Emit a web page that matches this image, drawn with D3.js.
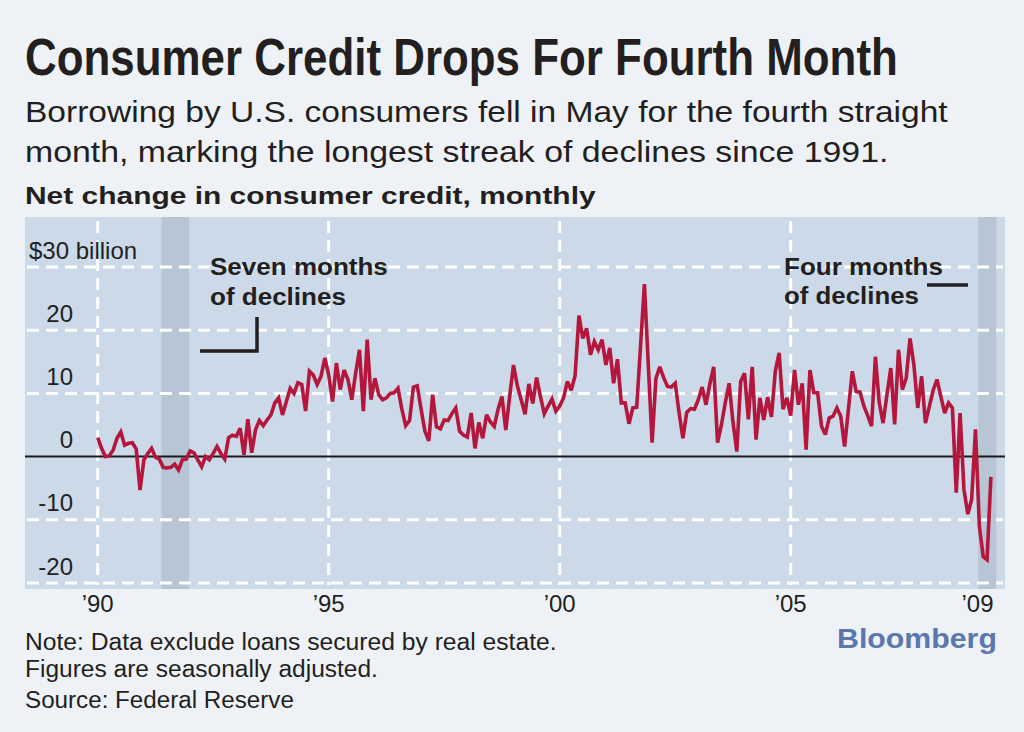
<!DOCTYPE html>
<html>
<head>
<meta charset="utf-8">
<script src="https://cdn.jsdelivr.net/npm/d3@7"></script>
<style>
  body { margin: 0; background: #eef2f6; }
  svg { display: block; font-family: "Liberation Sans", Arial, sans-serif; }
</style>
</head>
<body>
<div id="chart"></div>
<script>
// -- DATA: net change in consumer credit, $ billions, monthly from Jan 1990
var startYear = 1990;

var credit1990to1994 = [
  3.0, 1.3, 0.0, 0.1, 1.0, 2.9, 3.9, 1.8, 2.1, 2.2, 1.2, -5.3,
  -0.5, 0.5, 1.3, -0.1, -0.4, -1.7, -1.8, -1.7, -1.2, -2.1, -0.5, -0.4,
  0.9, 0.6, -0.5, -1.6, 0.0, -0.5, 0.5, 1.6, 0.5, -0.4, 3.0, 3.4,
  3.2, 4.5, 0.3, 5.9, 0.6, 4.3, 5.7, 4.9, 5.8, 6.6, 8.5, 9.3,
  6.6, 8.7, 10.8, 10.0, 11.7, 11.4, 7.2, 13.5, 12.9, 11.4, 12.7, 15.6
];
var credit1995to1999 = [
  12.9, 8.7, 14.8, 10.6, 13.7, 12.2, 9.0, 13.2, 16.9, 7.2, 18.5, 9.0,
  12.4, 9.8, 9.0, 9.3, 10.0, 10.1, 10.8, 7.5, 4.9, 5.7, 11.0, 11.2,
  7.5, 4.0, 2.5, 9.8, 4.7, 4.4, 5.8, 5.7, 6.8, 7.7, 4.0, 3.4,
  3.1, 6.9, 1.3, 5.4, 2.9, 6.6, 5.5, 4.8, 7.5, 9.5, 4.2, 9.5,
  14.5, 11.2, 9.0, 6.7, 11.5, 8.4, 12.5, 9.5, 6.8, 8.0, 9.1, 7.2
];
var credit2000to2004 = [
  8.0, 9.3, 11.9, 10.5, 12.8, 22.3, 18.7, 20.3, 16.1, 18.2, 16.9, 18.5,
  14.5, 17.2, 11.6, 15.4, 8.5, 8.5, 5.2, 7.7, 7.8, 17.5, 27.3, 14.7,
  2.2, 12.4, 14.2, 12.5, 11.1, 11.0, 11.6, 7.0, 2.9, 7.0, 7.6, 7.5,
  9.0, 11.0, 8.2, 11.5, 14.2, 2.2, 5.0, 8.5, 11.6, 5.5, 0.8, 11.9,
  13.2, 5.9, 14.2, 2.7, 9.3, 5.8, 9.4, 6.3, 13.5, 16.4, 7.5, 9.3
];
var credit2005to2009 = [
  6.5, 13.7, 8.2, 11.6, 1.1, 13.7, 10.1, 10.1, 4.8, 3.5, 6.1, 6.4,
  7.7, 6.4, 1.6, 7.5, 13.5, 10.3, 10.2, 8.0, 6.5, 4.8, 15.8, 8.5,
  5.3, 9.8, 14.0, 5.1, 16.9, 10.6, 12.4, 18.7, 14.5, 7.7, 12.7, 5.3,
  7.9, 10.5, 12.2, 9.5, 6.9, 8.5, 7.7, -5.7, 6.9, -5.2, -9.1, -6.8,
  4.3, -11.0, -15.8, -16.3, -3.2
];

var yTicks = [30, 20, 10, 0, -10, -20];
var yTickLabels = ["$30 billion", "20", "10", "0", "-10", "-20"];
var xGridYears = [1990, 1995, 2000, 2005];
var xTickYears = [1990, 1995, 2000, 2005, 2009];
var xTickLabels = ["\u201990", "\u201995", "\u201900", "\u201905", "\u201909"];
// shaded stretches of declines (decimal years)
var declineBands = [[1991.38, 1991.98], [2009.06, 2009.45]];

// -- LAYOUT
var W = 1024, H = 732;
var plot = {left: 25, right: 1005, top: 217, bottom: 589};
var ink = "#231f20";

var allValues = credit1990to1994.concat(credit1995to1999, credit2000to2004, credit2005to2009);
var series = allValues.map(function (v, i) {
  return {t: startYear + i / 12, v: v};
});

var x = d3.scaleLinear().domain([1990, 2009]).range([97.7, 975.5]);
var y = d3.scaleLinear().domain([-20, 30]).range([583, 267]);

var svg = d3.select("#chart").append("svg")
  .attr("width", W)
  .attr("height", H);

svg.append("rect")
  .attr("width", W).attr("height", H)
  .attr("fill", "#eef2f6");

// helper: text squeezed horizontally to the width seen in the reference
function addText(str, tx, ty, size, weight, len, fill) {
  var t = svg.append("text")
    .attr("x", 0)
    .attr("y", 0)
    .attr("font-size", size)
    .attr("font-weight", weight)
    .attr("fill", fill || ink)
    .text(str);
  var natural = t.node().getComputedTextLength();
  var sx = len && natural ? len / natural : 1;
  t.attr("transform", "translate(" + tx + "," + ty + ") scale(" + sx + ",1)");
  return t;
}

// -- HEADLINES
addText("Consumer Credit Drops For Fourth Month", 25, 75, 52, "bold", 873);
addText("Borrowing by U.S. consumers fell in May for the fourth straight", 25, 122, 30, "normal", 923);
addText("month, marking the longest streak of declines since 1991.", 25, 162, 30, "normal", 864);
addText("Net change in consumer credit, monthly", 25, 204, 24, "bold", 571);

// -- PLOT BACKGROUND
var g = svg.append("g");

g.append("rect")
  .attr("x", plot.left)
  .attr("y", plot.top)
  .attr("width", plot.right - plot.left)
  .attr("height", plot.bottom - plot.top)
  .attr("fill", "#cbd9e8");

g.selectAll(".band").data(declineBands).enter().append("rect")
  .attr("class", "band")
  .attr("x", function (d) { return x(d[0]); })
  .attr("width", function (d) { return x(d[1]) - x(d[0]); })
  .attr("y", plot.top)
  .attr("height", plot.bottom - plot.top)
  .attr("fill", "#b7c5d5");

// -- GRID
g.selectAll(".hgrid").data(yTicks.filter(function (d) { return d !== 0; })).enter().append("line")
  .attr("class", "hgrid")
  .attr("x1", plot.left + 2)
  .attr("x2", plot.right - 2)
  .attr("y1", function (d) { return y(d); })
  .attr("y2", function (d) { return y(d); })
  .attr("stroke", "#fff")
  .attr("stroke-width", 3)
  .attr("stroke-dasharray", "12,7");

g.selectAll(".vgrid").data(xGridYears).enter().append("line")
  .attr("class", "vgrid")
  .attr("x1", function (d) { return x(d); })
  .attr("x2", function (d) { return x(d); })
  .attr("y1", plot.top + 4)
  .attr("y2", plot.bottom - 4)
  .attr("stroke", "#fff")
  .attr("stroke-width", 3)
  .attr("stroke-dasharray", "12,7");

g.append("line")
  .attr("x1", plot.left)
  .attr("x2", plot.right)
  .attr("y1", y(0))
  .attr("y2", y(0))
  .attr("stroke", "#1a1a1a")
  .attr("stroke-width", 2);

// -- Y LABELS (sit above their gridline)
g.selectAll(".ylab").data(yTicks).enter().append("text")
  .attr("class", "ylab")
  .attr("x", function (d) { return d === 30 ? 29 : 73; })
  .attr("y", function (d) { return y(d) - 8.5; })
  .attr("text-anchor", function (d) { return d === 30 ? "start" : "end"; })
  .attr("font-size", 24)
  .attr("fill", ink)
  .text(function (d, i) { return yTickLabels[i]; });

// -- X LABELS
svg.selectAll(".xlab").data(xTickYears).enter().append("text")
  .attr("class", "xlab")
  .attr("x", function (d) { return x(d) + (d === 2009 ? 2 : 0); })
  .attr("y", 612)
  .attr("text-anchor", "middle")
  .attr("font-size", 24)
  .attr("fill", ink)
  .text(function (d, i) { return xTickLabels[i]; });

// -- DATA LINE
var line = d3.line()
  .x(function (d) { return x(d.t); })
  .y(function (d) { return y(d.v); });

g.append("path")
  .datum(series)
  .attr("d", line)
  .attr("fill", "none")
  .attr("stroke", "#b5163c")
  .attr("stroke-width", 3.6)
  .attr("stroke-linejoin", "miter")
  .attr("stroke-miterlimit", 3);

// -- ANNOTATIONS
addText("Seven months", 210, 275, 23, "bold", 178);
addText("of declines", 210, 305, 23, "bold", 136);
g.append("polyline")
  .attr("points", [200, 351, 257, 351, 257, 317].join(","))
  .attr("fill", "none")
  .attr("stroke", ink)
  .attr("stroke-width", 3.5);

addText("Four months", 784, 275, 23, "bold", 159);
addText("of declines", 784, 304, 23, "bold", 135);
g.append("line")
  .attr("x1", 927).attr("x2", 968)
  .attr("y1", 285).attr("y2", 285)
  .attr("stroke", ink)
  .attr("stroke-width", 3.5);

// -- FOOTER
addText("Note: Data exclude loans secured by real estate.", 25, 650, 23, "normal", 532);
addText("Figures are seasonally adjusted.", 25, 677, 23, "normal", 353);
addText("Source: Federal Reserve", 25, 708, 23, "normal", 269);
addText("Bloomberg", 837, 648, 27, "bold", 160, "#5a78ad");
</script>
</body>
</html>
